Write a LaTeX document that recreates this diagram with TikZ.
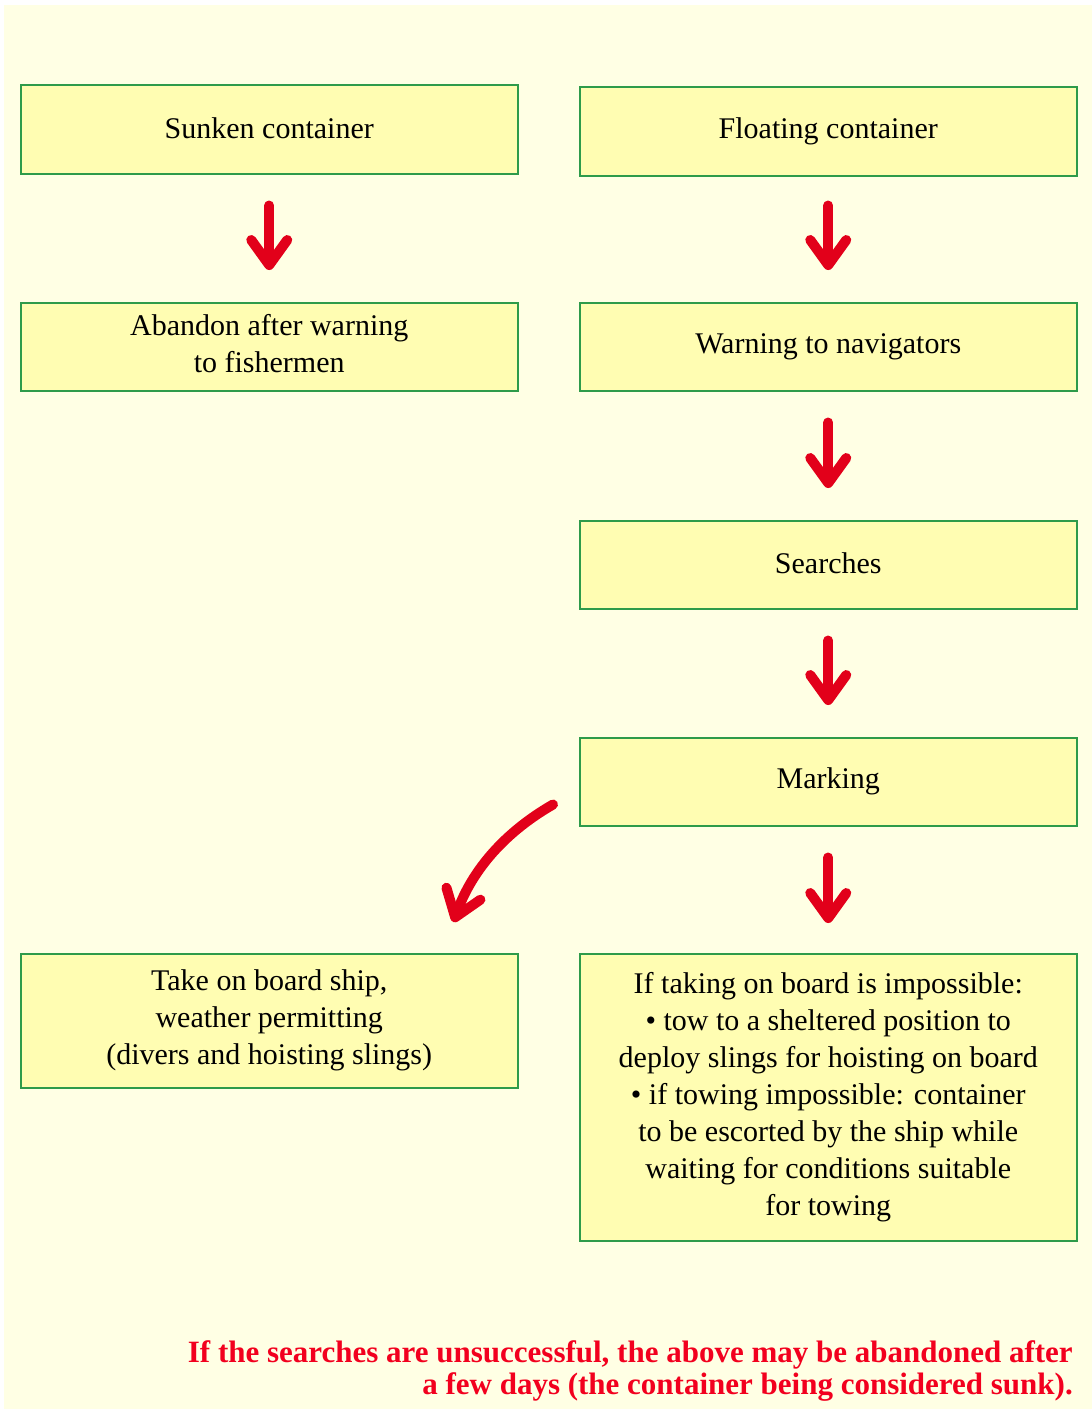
\documentclass[tikz,border=0pt]{standalone}
\usepackage{fontspec}
\setmainfont{Liberation Serif}
\usetikzlibrary{arrows.meta}
\definecolor{bgyellow}{HTML}{FFFFE4}
\definecolor{boxfill}{HTML}{FFFDB2}
\definecolor{boxgreen}{HTML}{2E9B4A}
\definecolor{arrred}{HTML}{E2001A}
\definecolor{txtred}{HTML}{F2001E}
\tikzset{
  box/.style={draw=boxgreen, fill=boxfill, line width=1.5pt, minimum width=497pt,
    inner sep=0pt, align=center, anchor=north west,
    font=\fontsize{30}{37}\selectfont},
  redarrow/.style={draw=arrred, line width=10pt, line cap=round,
    -{Straight Barb[length=25pt, width=36pt, round]}},
}
\begin{document}
\begin{tikzpicture}[x=1pt, y=-1pt]
\useasboundingbox (0,0) rectangle (1092,1409);
\fill[white] (0,0) rectangle (1092,1409);
\fill[bgyellow] (4,5) rectangle (1092,1409);

\node[box, minimum height=89pt] (sunk) at (20,84) {\raisebox{3pt}{Sunken container}};
\node[box, minimum height=89pt] (float) at (579,86) {\raisebox{3pt}{Floating container}};
\node[box, minimum height=88pt] (aband) at (20,302) {\raisebox{3pt}{\begin{tabular}{@{}c@{}}Abandon after warning\\to fishermen\end{tabular}}};
\node[box, minimum height=88pt] (warn) at (579,302) {\raisebox{3pt}{Warning to navigators}};
\node[box, minimum height=88pt] (search) at (579,520) {\raisebox{3pt}{Searches}};
\node[box, minimum height=88pt] (mark) at (579,737) {\raisebox{3pt}{Marking}};
\node[box, minimum height=134pt] (board) at (20,953) {Take on board ship,\\weather permitting\\(divers and hoisting slings)};
\node[box, minimum height=287pt] (imposs) at (579,953) {If taking on board is impossible:\\
  \textbullet\ tow to a sheltered position to\\
  deploy slings for hoisting on board\\
  \textbullet\ if towing impossible: container\\
  to be escorted by the ship while\\
  waiting for conditions suitable\\
  for towing};

\draw[redarrow, shorten <=31pt, shorten >=32pt] (sunk) -- (aband);
\draw[redarrow, shorten <=29pt, shorten >=32pt] (float) -- (warn);
\draw[redarrow, shorten <=31pt, shorten >=32pt] (warn) -- (search);
\draw[redarrow, shorten <=31pt, shorten >=32pt] (search) -- (mark);
\draw[redarrow, shorten <=31pt, shorten >=30pt] (mark) -- (imposs);
\draw[redarrow] ([shift={(-26,-22)}]mark.south west)
  .. controls (500,835) and (470,875) .. ([shift={(-65,-31)}]board.north east);

\node[anchor=south east, align=right, text=txtred, inner sep=0pt,
  font=\bfseries\fontsize{31}{32}\selectfont] (note) at (1073,1402)
  {If the searches are unsuccessful, the above may be abandoned after\\
   a few days (the container being considered sunk).};
\end{tikzpicture}
\end{document}
